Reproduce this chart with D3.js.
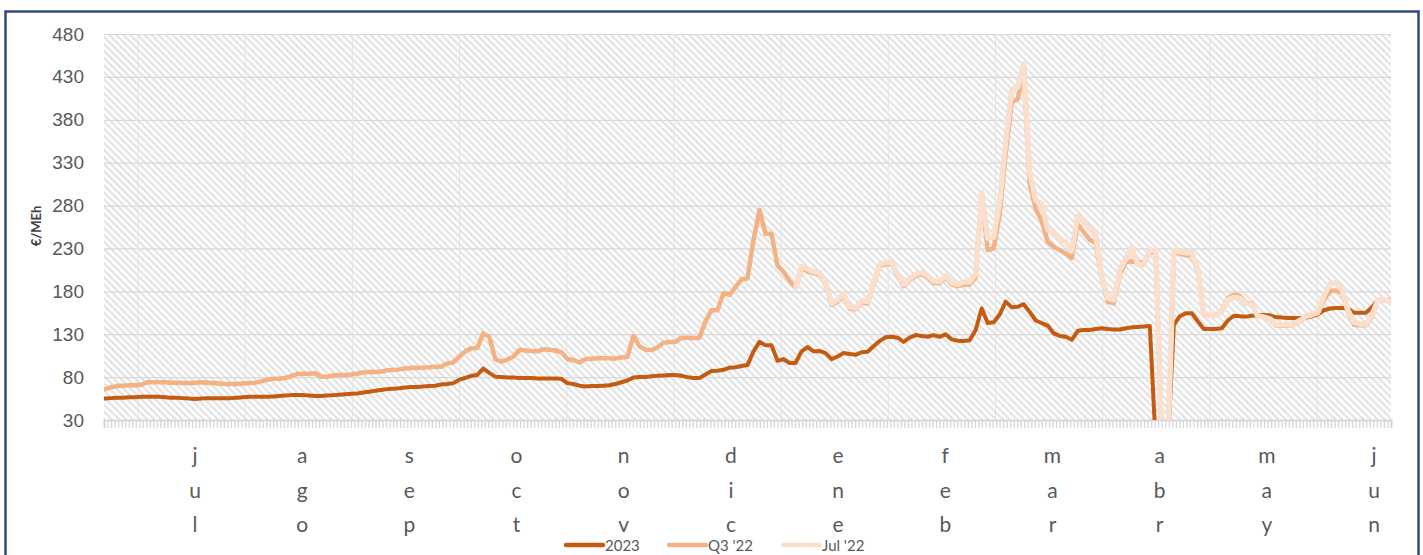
<!DOCTYPE html>
<html>
<head>
<meta charset="utf-8">
<script src="https://cdn.jsdelivr.net/npm/d3@7"></script>
<style>
  body { margin: 0; background: #fff; }
  svg { display: block; font-family: Lato, "Open Sans", sans-serif; }
</style>
</head>
<body>
<div id="chart"></div>
<script>
// month labels on the category axis (jul 2022 -> jun 2023)
const months = ['jul', 'ago', 'sep', 'oct', 'nov', 'dic', 'ene', 'feb', 'mar', 'abr', 'may', 'jun'];
const yTicks = [30, 80, 130, 180, 230, 280, 330, 380, 430, 480];
const nDays = 365;

// €/MWh, one reading every ~6 px along the axis
const s2023 = [
  55, 55.5, 56, 56, 56.5, 56.5, 57, 57, 57, 57,
  56.5, 56, 56, 55.5, 55, 54.5, 55, 55.5, 55.5, 55.5,
  55.5, 55.5, 56, 56.5, 57, 57, 57, 57, 57.5, 58,
  58.5, 59, 59, 59, 58.5, 58, 58, 58.5, 59, 59.5,
  60, 60.5, 61, 62, 63, 64, 65, 66, 66.5, 67,
  68, 68.5, 68.5, 69, 69.5, 70, 71.5, 72, 73, 77,
  79, 81.5, 82.5, 90, 85, 80.5, 80, 79.5, 79.5, 79,
  79, 79, 78.5, 78.5, 78.5, 78.5, 78, 73, 72, 70,
  69, 69.5, 69.5, 70, 70.5, 72, 74, 76, 79.5, 80,
  80, 81, 81.5, 82, 82.5, 82.5, 81.5, 80, 79, 79,
  83, 87, 87.5, 88.5, 91, 91.5, 93, 94, 110, 121,
  117, 117, 99, 101, 96.5, 96.5, 110, 115, 110, 110.5,
  108, 101, 104, 108, 107, 106, 109, 109.5, 116, 122,
  126.5, 127, 126, 121, 126, 129, 128, 127, 129, 127,
  130, 124, 122.5, 122, 123, 135, 160, 143, 144, 153,
  168, 161.5, 162, 165, 156, 146, 143, 140, 131, 128,
  127, 123.5, 134, 135, 135, 136, 137, 136, 135.5, 135.5,
  137, 138, 138.5, 139, 139.5, 0, 0, 0, 141, 151,
  154.5, 154.5, 145, 136, 136, 136, 137, 146, 151.5, 151,
  150.5, 151.5, 152.5, 152.5, 152, 150, 149.5, 149, 149, 149,
  149, 151, 153, 158, 160, 160.5, 160.5, 160, 155, 155,
  155, 161.5, 170, 170, 170
];

const sQ3 = [
  66, 68, 69.5, 70, 70.5, 70.5, 71, 74, 74, 74,
  74, 73.5, 73.5, 73, 73, 73.5, 74, 73.5, 73, 72.5,
  72, 72, 72, 72.5, 73, 73.5, 75, 77, 78, 78,
  79, 81, 83.5, 84, 84, 84.5, 80.5, 80.5, 82, 82.5,
  82.5, 83, 84, 85.5, 86, 86, 86.5, 88, 88.5, 89,
  90, 90.5, 91, 91, 91.5, 92, 92, 96, 97, 104,
  110, 113.5, 114, 131, 127, 101, 98, 100.5, 104, 111.5,
  111, 110.5, 110, 112.5, 112, 111, 109, 101, 100, 97,
  101, 101.5, 102, 102, 102, 101.5, 103, 103.5, 128, 116,
  112, 111.5, 114.5, 120, 121, 121, 126, 126, 125.5, 126,
  145, 158, 158, 178, 176, 185, 194, 195, 240, 275,
  247, 247, 210, 203, 192, 184, 206, 204, 201, 200,
  188, 164, 168, 175, 160, 159, 167, 166, 188, 209,
  212, 212, 198, 186, 193, 198, 200, 196, 190, 189.5,
  196, 188, 186, 188, 188, 196, 290, 228, 230, 270,
  340, 400, 404, 438, 305, 276, 262, 238, 232, 228,
  224, 219, 258, 249, 240, 236, 195, 168, 166, 200,
  214, 215, 213, 214, 225, 225, 0, 0, 225, 224,
  222, 222, 203, 152, 152, 152, 158, 172, 176, 175,
  167, 165, 152, 150, 147, 140, 140, 140, 141, 145,
  150, 152, 154, 170, 180, 181, 178, 156, 141, 140.5,
  140.5, 150, 170, 170, 170
];

// Jul '22 only starts in mid december
const julOffset = 115;
const sJul = [
  184, 209, 206, 203, 202,
  190, 166, 170, 177, 162, 160.5, 169, 168, 190, 211,
  214, 214, 200, 188, 195, 200, 202, 198, 192, 191.5,
  198, 190, 188, 191, 191, 200, 295, 242, 243, 285,
  355, 415, 418, 445, 318, 286, 282, 252, 248, 240,
  238, 227, 268, 262, 254, 245, 197, 172, 170, 205,
  218, 231, 211, 211, 228, 228, 0, 0, 228, 226,
  225, 225, 205, 152, 152, 152, 157, 170, 173, 172,
  166, 164, 151, 150, 148, 141, 141, 141, 142, 146,
  151, 153, 156, 175, 189, 190, 182, 158, 144, 142,
  142, 152, 170, 170, 168
];

const series = [
  { name: '2023', color: '#C55A11', width: 4, values: s2023.map((v, i) => [i, v]) },
  { name: "Q3 '22", color: '#F4B183', width: 4.5, values: sQ3.map((v, i) => [i, v]) },
  { name: "Jul '22", color: '#FADFCC', width: 5.5, values: sJul.map((v, i) => [i + julOffset, v]) }
];

const width = 1423, height = 555;
const plot = { left: 104, right: 1391, top: 34, bottom: 420 };

const svg = d3.select('#chart').append('svg')
  .attr('width', width)
  .attr('height', height);

const defs = svg.append('defs');
const hatch = defs.append('pattern')
  .attr('id', 'hatch')
  .attr('width', 5).attr('height', 5)
  .attr('patternUnits', 'userSpaceOnUse')
  .attr('patternTransform', 'rotate(-45)');
hatch.append('rect').attr('width', 5).attr('height', 5).attr('fill', '#fff');
hatch.append('line')
  .attr('x1', 2.5).attr('x2', 2.5).attr('y1', 0).attr('y2', 5)
  .attr('stroke', '#dcdcdc').attr('stroke-width', 1.8);

defs.append('clipPath').attr('id', 'plotClip')
  .append('rect')
  .attr('x', plot.left).attr('y', plot.top)
  .attr('width', plot.right - plot.left).attr('height', plot.bottom - plot.top);

const x = d3.scaleLinear().domain([0, s2023.length - 1]).range([plot.left + 1, plot.right - 1]);
const y = d3.scaleLinear().domain([30, 480]).range([plot.bottom, plot.top]);
const xDays = d3.scaleLinear().domain([0, nDays]).range([plot.left, plot.right]);
const xMonth = d3.scalePoint().domain(months).range([195, 1374]);

// plot background
svg.append('rect')
  .attr('x', plot.left).attr('y', plot.top)
  .attr('width', plot.right - plot.left).attr('height', plot.bottom - plot.top)
  .attr('fill', 'url(#hatch)');

// horizontal gridlines + y labels
const yAxis = svg.append('g')
  .attr('transform', `translate(${plot.left},0)`)
  .call(d3.axisLeft(y).tickValues(yTicks).tickSize(-(plot.right - plot.left)).tickPadding(20));
yAxis.select('.domain').remove();
yAxis.selectAll('line').attr('stroke', '#d9d9d9').attr('stroke-width', 1.2);
yAxis.selectAll('text')
  .attr('fill', '#595959')
  .style('font-size', '19px');

// vertical month gridlines
svg.append('g')
  .selectAll('line')
  .data(months)
  .enter()
  .append('line')
  .attr('x1', d => xMonth(d) - 57).attr('x2', d => xMonth(d) - 57)
  .attr('y1', plot.top).attr('y2', plot.bottom)
  .attr('stroke', '#e4e4e4')
  .attr('stroke-width', 1);

// daily tick marks under the axis
const xAxis = svg.append('g')
  .attr('transform', `translate(0,${plot.bottom})`)
  .call(d3.axisBottom(xDays).tickValues(d3.range(nDays + 1)).tickSize(8).tickFormat(''));
xAxis.select('.domain').attr('stroke', '#d9d9d9').attr('stroke-width', 2);
xAxis.selectAll('line').attr('stroke', '#d4d4d4').attr('stroke-width', 1.2);

// lines
const line = d3.line()
  .x(d => x(d[0]))
  .y(d => y(d[1]));

svg.append('g')
  .attr('clip-path', 'url(#plotClip)')
  .selectAll('path')
  .data(series)
  .enter()
  .append('path')
  .attr('d', d => line(d.values))
  .attr('fill', 'none')
  .attr('stroke', d => d.color)
  .attr('stroke-width', d => d.width)
  .attr('stroke-linejoin', 'round')
  .attr('stroke-linecap', 'round');

// month labels, letters stacked vertically
const monthText = svg.append('g')
  .selectAll('text')
  .data(months)
  .enter()
  .append('text')
  .attr('text-anchor', 'middle')
  .attr('fill', '#595959')
  .style('font-size', '21px');
monthText.selectAll('tspan')
  .data(d => d.split('').map(ch => ({ ch, m: d })))
  .enter()
  .append('tspan')
  .attr('x', d => xMonth(d.m))
  .attr('y', (d, i) => 463 + i * 34.5)
  .text(d => d.ch);

// y axis title
svg.append('text')
  .attr('transform', 'translate(41,226) rotate(-90)')
  .attr('text-anchor', 'middle')
  .attr('fill', '#404040')
  .style('font-size', '13px')
  .style('font-weight', 'bold')
  .text('€/MEh');

// legend
const legendX = [566, 669, 783];
const legend = svg.append('g')
  .selectAll('g')
  .data(series)
  .enter()
  .append('g')
  .attr('transform', (d, i) => `translate(${legendX[i]},545)`);
legend.append('line')
  .attr('x1', 0).attr('x2', 37)
  .attr('stroke', d => d.color)
  .attr('stroke-width', 4.5)
  .attr('stroke-linecap', 'round');
legend.append('text')
  .attr('x', 39).attr('y', 6)
  .attr('fill', '#595959')
  .style('font-size', '15px')
  .text(d => d.name);

// outer frame
svg.append('rect')
  .attr('x', 5.5).attr('y', 11.5)
  .attr('width', 1413).attr('height', 600)
  .attr('fill', 'none')
  .attr('stroke', '#2F4A7C')
  .attr('stroke-width', 2.5);
</script>
</body>
</html>
